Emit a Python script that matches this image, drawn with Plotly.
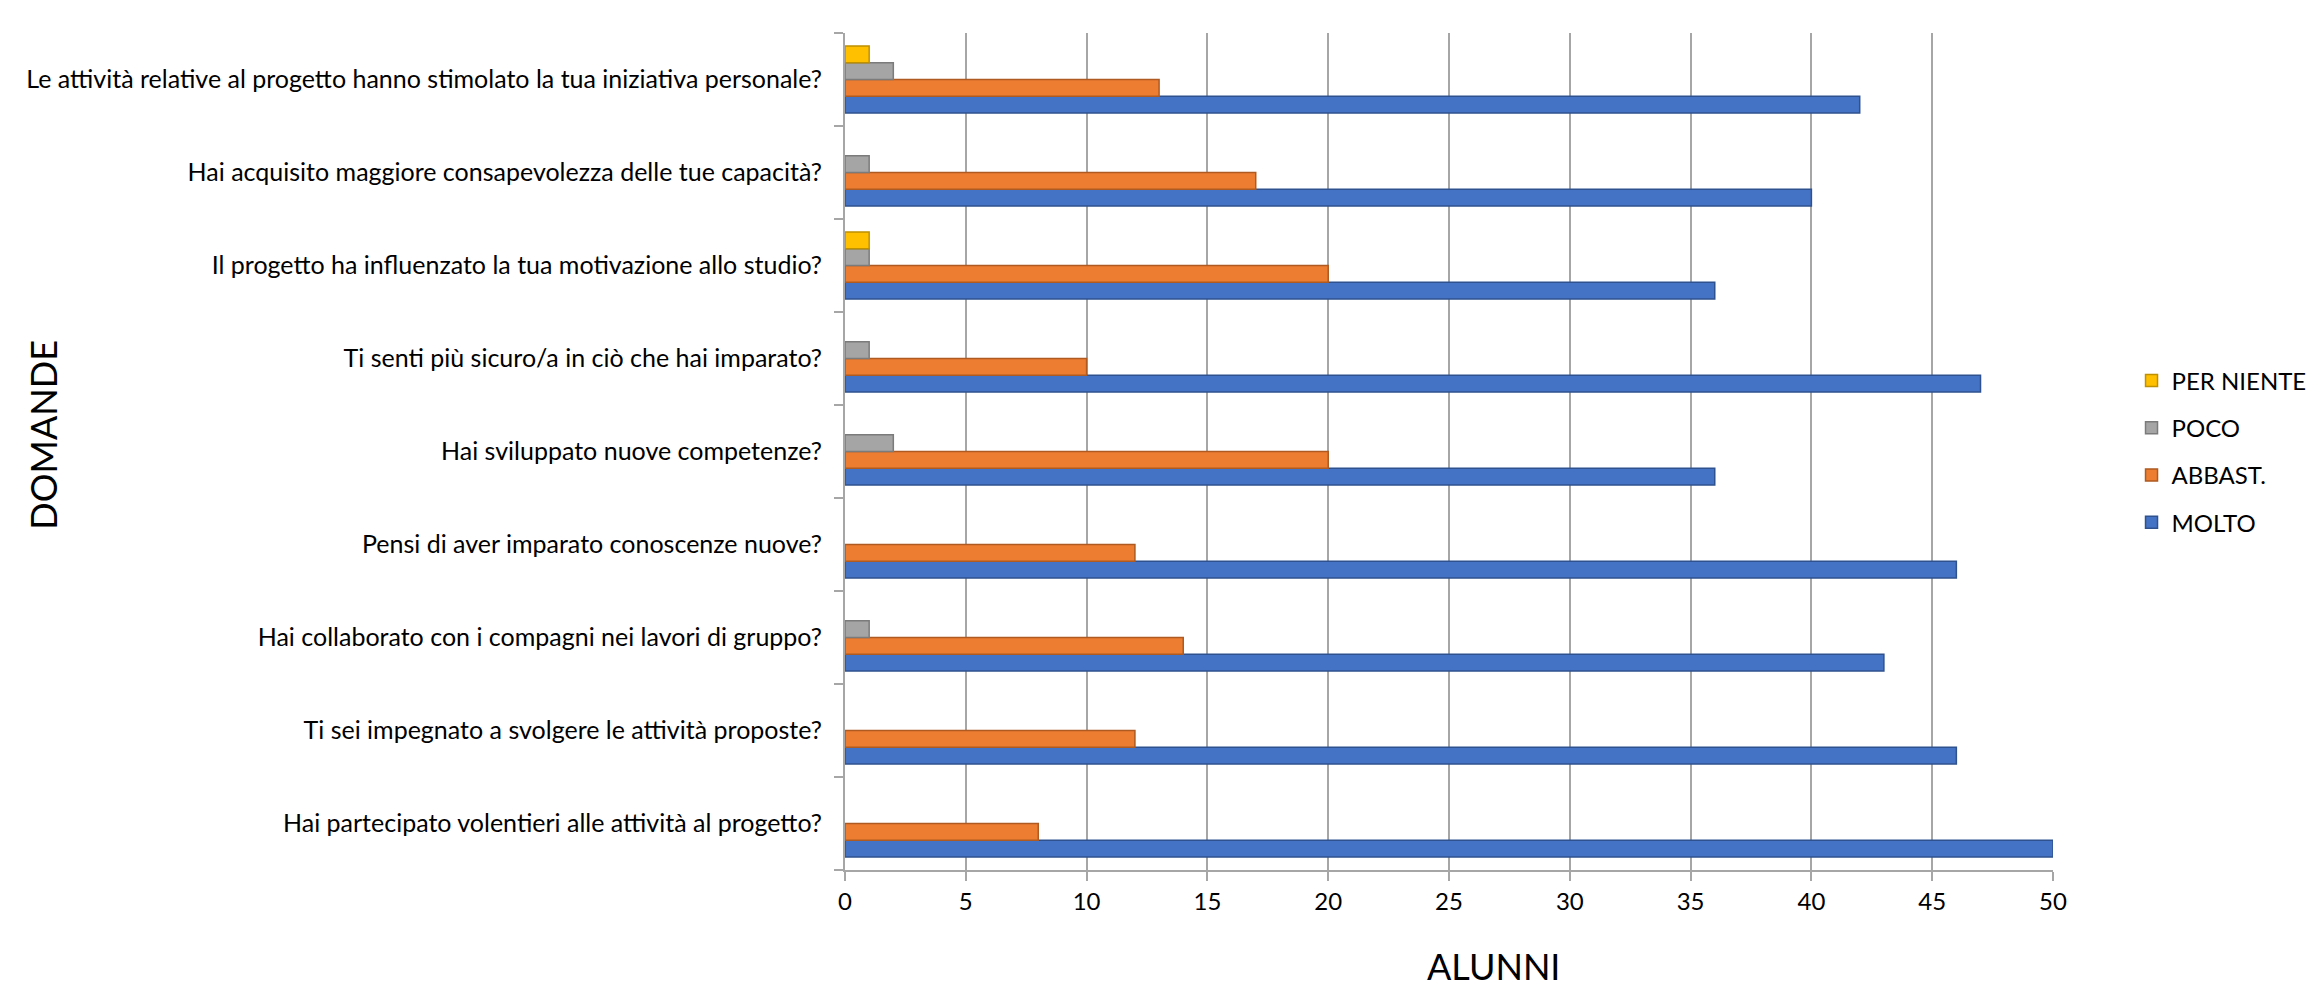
import plotly.graph_objects as go

questions = [
    "Le attività relative al progetto hanno stimolato la tua iniziativa personale?",
    "Hai acquisito maggiore consapevolezza delle tue capacità?",
    "Il progetto ha influenzato la tua motivazione allo studio?",
    "Ti senti più sicuro/a in ciò che hai imparato?",
    "Hai sviluppato nuove competenze?",
    "Pensi di aver imparato conoscenze nuove?",
    "Hai collaborato con i compagni nei lavori di gruppo?",
    "Ti sei impegnato a svolgere le attività proposte?",
    "Hai partecipato volentieri alle attività al progetto?",
]
molto = [42, 40, 36, 47, 36, 46, 43, 46, 50]
abbast = [13, 17, 20, 10, 20, 12, 14, 12, 8]
poco = [2, 1, 1, 1, 2, 0, 1, 0, 0]
per_niente = [1, 0, 1, 0, 0, 0, 0, 0, 0]

series_names = ["MOLTO", "ABBAST.", "POCO", "PER NIENTE"]
series_values = [molto, abbast, poco, per_niente]
legend_ranks = [4, 3, 2, 1]
colors = ["#4472C4", "#ED7D31", "#A5A5A5", "#FFC000"]
edge_colors = ["#2F528F", "#AE5A21", "#7B7B7B", "#BF9000"]
x_ticks = [0, 5, 10, 15, 20, 25, 30, 35, 40, 45, 50]

FONT = "Lato, Calibri, Carlito, 'Open Sans', sans-serif"

fig = go.Figure()
for name, vals, col, ecol, rank in zip(series_names, series_values, colors,
                                        edge_colors, legend_ranks):
    fig.add_trace(go.Bar(
        y=questions,
        x=vals,
        name=name,
        orientation="h",
        marker=dict(color=col,
                    line=dict(color=ecol,
                              width=[1.5 if v > 0 else 0 for v in vals])),
        legendgroup=name,
        legendrank=rank,
    ))

fig.update_layout(
    width=2315,
    height=990,
    paper_bgcolor="white",
    plot_bgcolor="white",
    barmode="group",
    bargap=0.28,
    bargroupgap=0,
    margin=dict(l=837, r=238, t=25, b=128),
    font=dict(family=FONT, color="#000000"),
    showlegend=True,
    legend=dict(
        x=1.065, xanchor="left",
        y=0.50, yanchor="middle",
        traceorder="grouped",
        tracegroupgap=13,
        font=dict(size=24, family=FONT, color="#000000"),
        itemwidth=30,
        bgcolor="rgba(0,0,0,0)",
    ),
    xaxis=dict(
        range=[0, 50],
        tickvals=x_ticks,
        ticktext=[str(v) for v in x_ticks],
        showgrid=True,
        gridcolor="#A6A6A6",
        gridwidth=2,
        zeroline=False,
        showline=True,
        linecolor="#A6A6A6",
        linewidth=2,
        ticks="outside",
        ticklen=9,
        tickcolor="#A6A6A6",
        tickwidth=1.5,
        tickfont=dict(size=24, color="#000000"),
    ),
    yaxis=dict(
        categoryorder="array",
        categoryarray=questions[::-1],
        showgrid=False,
        zeroline=False,
        showline=True,
        linecolor="#A6A6A6",
        linewidth=2,
        ticks="outside",
        tickson="boundaries",
        ticklen=9,
        tickcolor="#A6A6A6",
        tickwidth=1.5,
        ticklabelstandoff=16,
        tickfont=dict(size=25, color="#000000"),
    ),
    annotations=[
        dict(text="ALUNNI", x=0.537, y=-0.143, xref="paper", yref="paper",
             xanchor="center", yanchor="bottom", showarrow=False,
             font=dict(size=36, family=FONT, color="#000000")),
        dict(text="DOMANDE", x=-0.664, y=0.52, xref="paper", yref="paper",
             xanchor="center", yanchor="middle", textangle=-90, showarrow=False,
             font=dict(size=36, family=FONT, color="#000000")),
    ],
)

fig.write_html("out.html")
